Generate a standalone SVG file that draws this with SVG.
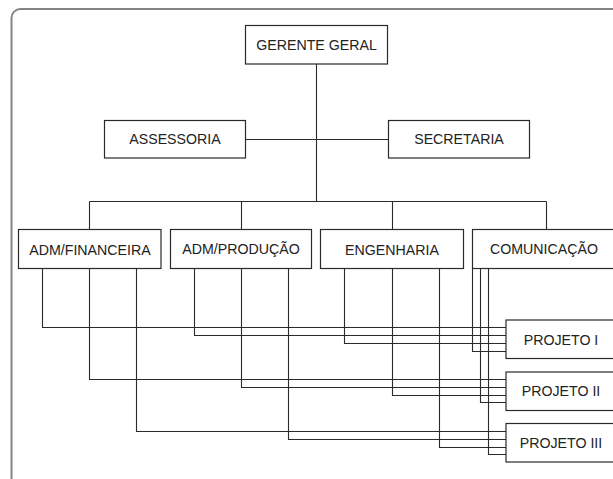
<svg xmlns="http://www.w3.org/2000/svg" width="613" height="479" viewBox="0 0 613 479">
<style>
.frame{fill:none;stroke:#858585;stroke-width:2}
.box{fill:#fff;stroke:#2a2a2a;stroke-width:1.2}
.lbl{font-family:"Liberation Sans",Arial,sans-serif;font-size:14.2px;fill:#222;text-anchor:middle}
.con{fill:none;stroke:#2a2a2a;stroke-width:1.1}
</style>
<rect width="613" height="479" fill="#fff"/>
<rect class="frame" x="11.5" y="9" width="640" height="500" rx="9"/>
<g id="connectors">
<path class="con" d="M316.5 64V201.5M245.5 139.5H388.5M89.5 201.5H546.5M89.5 201.5V229.5M241.5 201.5V229.5M392.5 201.5V229.5M546.5 201.5V229.5"/>
<path class="con" d="M42.5 268.5V327.5H506M194.5 268.5V335.5H506M344.5 268.5V343.5H506M472.5 268.5V351.5H506"/>
<path class="con" d="M89.5 268.5V379.5H506M241.5 268.5V387.5H506M392.5 268.5V395.5H506M480.5 268.5V402.5H506"/>
<path class="con" d="M136.5 268.5V431.5H506M288.5 268.5V439.5H506M439.5 268.5V447.5H506M488.5 268.5V454.5H506"/>
</g>
<g id="gerente-geral"><rect class="box" x="245.5" y="25.5" width="142" height="38.5"/><text class="lbl" x="316.5" y="50">GERENTE GERAL</text></g>
<g id="assessoria"><rect class="box" x="104.5" y="120.5" width="141" height="37.5"/><text class="lbl" x="175" y="144">ASSESSORIA</text></g>
<g id="secretaria"><rect class="box" x="388.5" y="120.5" width="141" height="37.5"/><text class="lbl" x="459" y="144">SECRETARIA</text></g>
<g id="adm-financeira"><rect class="box" x="18.5" y="229.5" width="142.5" height="39"/><text class="lbl" x="90" y="255">ADM/FINANCEIRA</text></g>
<g id="adm-producao"><rect class="box" x="170.5" y="229.5" width="141" height="39"/><text class="lbl" x="241" y="253.5">ADM/PRODUÇÃO</text></g>
<g id="engenharia"><rect class="box" x="320.5" y="229.5" width="143" height="39"/><text class="lbl" x="392" y="255">ENGENHARIA</text></g>
<g id="comunicacao"><rect class="box" x="472.5" y="229.5" width="147" height="39"/><text class="lbl" x="544" y="253.5">COMUNICAÇÃO</text></g>
<g id="projeto-1"><rect class="box" x="506" y="320" width="112" height="38.5"/><text class="lbl" x="561" y="344.5">PROJETO I</text></g>
<g id="projeto-2"><rect class="box" x="506" y="372" width="112" height="38.5"/><text class="lbl" x="561" y="396">PROJETO II</text></g>
<g id="projeto-3"><rect class="box" x="506" y="423.5" width="112" height="38.5"/><text class="lbl" x="561" y="447.5">PROJETO III</text></g>
</svg>
